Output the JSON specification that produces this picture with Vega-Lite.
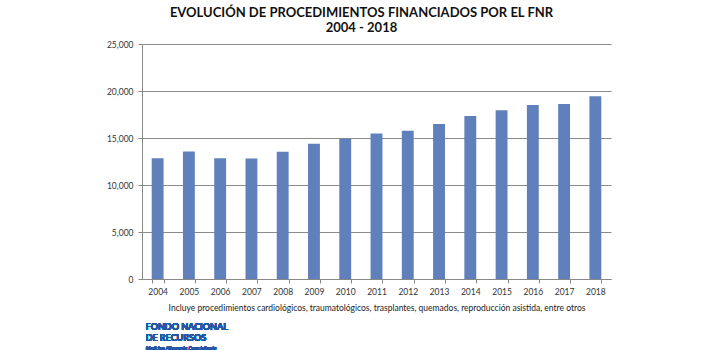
{
  "$schema": "https://vega.github.io/schema/vega-lite/v6.json",
  "autosize": "none",
  "width": 469,
  "height": 235,
  "padding": {"left": 142, "top": 44, "right": 109, "bottom": 71},
  "background": "white",
  "config": {"view": {"stroke": null}, "font": "Lato"},
  "title": {
    "text": ["EVOLUCIÓN DE PROCEDIMIENTOS FINANCIADOS POR EL FNR", "2004 - 2018"],
    "anchor": "middle",
    "frame": "group",
    "dx": -15,
    "offset": 5,
    "font": "Lato",
    "fontSize": 13,
    "fontWeight": "bold",
    "lineHeight": 15,
    "color": "#111111"
  },
  "data": {
    "values": [
      {"year": "2004", "procedimientos": 12850},
      {"year": "2005", "procedimientos": 13560},
      {"year": "2006", "procedimientos": 12850},
      {"year": "2007", "procedimientos": 12820},
      {"year": "2008", "procedimientos": 13530},
      {"year": "2009", "procedimientos": 14380},
      {"year": "2010", "procedimientos": 14920},
      {"year": "2011", "procedimientos": 15480},
      {"year": "2012", "procedimientos": 15770},
      {"year": "2013", "procedimientos": 16480},
      {"year": "2014", "procedimientos": 17330},
      {"year": "2015", "procedimientos": 17940},
      {"year": "2016", "procedimientos": 18510},
      {"year": "2017", "procedimientos": 18620},
      {"year": "2018", "procedimientos": 19430}
    ]
  },
  "layer": [
    {
      "mark": {"type": "bar", "color": "#5f80bb"},
      "encoding": {
        "x": {
          "field": "year",
          "type": "nominal",
          "sort": null,
          "scale": {"paddingInner": 0.62, "paddingOuter": 0.31},
          "axis": {
            "title": "Incluye procedimientos cardiológicos, traumatológicos, trasplantes, quemados, reproducción asistida, entre otros",
            "titleFont": "Lato",
            "titleFontSize": 8.5,
            "titleFontWeight": "normal",
            "titleColor": "#222222",
            "titlePadding": 8,
            "labelAngle": 0,
            "labelFont": "Lato",
            "labelFontSize": 8.5,
            "labelColor": "#333333",
            "labelPadding": 4,
            "tickBand": "extent",
            "tickSize": 4,
            "tickColor": "#888888",
            "domainColor": "#888888",
            "grid": false
          }
        },
        "y": {
          "field": "procedimientos",
          "type": "quantitative",
          "scale": {"domain": [0, 25000], "nice": false},
          "axis": {
            "title": null,
            "values": [0, 5000, 10000, 15000, 20000, 25000],
            "format": ",.0f",
            "labelFont": "Lato",
            "labelFontSize": 8.5,
            "labelColor": "#333333",
            "labelPadding": 5,
            "tickSize": 4,
            "tickColor": "#888888",
            "domainColor": "#888888",
            "gridColor": "#8a8a8a",
            "gridWidth": 1
          }
        }
      }
    },
    {
      "mark": {"type": "text", "align": "left", "baseline": "alphabetic", "dx": -12, "font": "Lato", "fontSize": 9, "fontWeight": "bold", "color": "#2458a6"},
      "encoding": {
        "x": {"datum": "2004"},
        "y": {"datum": -5400},
        "text": {"value": "FONDO NACIONAL"}
      }
    },
    {
      "mark": {"type": "text", "align": "left", "baseline": "alphabetic", "dx": -12, "font": "Lato", "fontSize": 9, "fontWeight": "bold", "color": "#2458a6"},
      "encoding": {
        "x": {"datum": "2004"},
        "y": {"datum": -6600},
        "text": {"value": "DE RECURSOS"}
      }
    },
    {
      "mark": {"type": "text", "align": "left", "baseline": "alphabetic", "dx": -12, "font": "Lato", "fontSize": 5, "fontStyle": "italic", "color": "#2458a6"},
      "encoding": {
        "x": {"datum": "2004"},
        "y": {"datum": -7500},
        "text": {"value": "Medicina Altamente Especializada"}
      }
    }
  ]
}
